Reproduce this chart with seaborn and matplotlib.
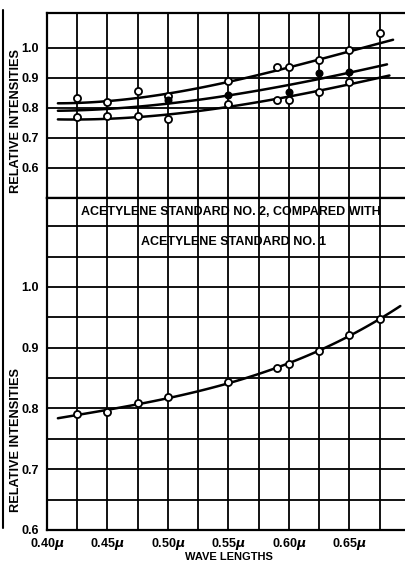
import matplotlib
matplotlib.use("Agg")
import matplotlib.pyplot as plt
import seaborn as sns
import numpy as np
import pandas as pd

# ---------------- data ----------------
# Upper panel: three series of observations and their hand-fitted curves
top_wl = [0.425, 0.45, 0.475, 0.50, 0.55, 0.59, 0.60, 0.625, 0.65, 0.675]
top_obs = [0.832, 0.820, 0.856, 0.839, 0.888, 0.937, 0.937, 0.959, 0.992, 1.048]
top_curve_wl = [0.409, 0.425, 0.45, 0.475, 0.50, 0.525, 0.55, 0.575, 0.60, 0.625, 0.65, 0.675, 0.686]
top_curve = [0.814, 0.817, 0.823, 0.834, 0.845, 0.865, 0.889, 0.909, 0.931, 0.962, 0.990, 1.015, 1.025]

mid_wl = [0.50, 0.55, 0.60, 0.625, 0.65]
mid_obs = [0.826, 0.843, 0.854, 0.917, 0.920]
mid_curve_wl = [0.409, 0.425, 0.45, 0.475, 0.50, 0.525, 0.55, 0.575, 0.60, 0.625, 0.65, 0.681]
mid_curve = [0.789, 0.793, 0.796, 0.804, 0.815, 0.827, 0.840, 0.856, 0.875, 0.898, 0.919, 0.943]

bot_wl = [0.425, 0.45, 0.475, 0.50, 0.55, 0.59, 0.60, 0.625, 0.65]
bot_obs = [0.769, 0.772, 0.772, 0.762, 0.813, 0.826, 0.826, 0.854, 0.885]
bot_curve_wl = [0.409, 0.425, 0.45, 0.475, 0.50, 0.525, 0.55, 0.575, 0.60, 0.625, 0.65, 0.683]
bot_curve = [0.759, 0.764, 0.765, 0.768, 0.776, 0.789, 0.805, 0.820, 0.835, 0.856, 0.882, 0.906]

# Lower panel: Acetylene standard No. 2 compared with No. 1
low_wl = [0.425, 0.45, 0.475, 0.50, 0.55, 0.59, 0.60, 0.625, 0.65, 0.675]
low_obs = [0.791, 0.795, 0.809, 0.819, 0.843, 0.866, 0.874, 0.894, 0.921, 0.948]
low_curve_wl = [0.409, 0.425, 0.45, 0.475, 0.50, 0.525, 0.55, 0.575, 0.60, 0.625, 0.65, 0.675, 0.692]
low_curve = [0.784, 0.790, 0.797, 0.806, 0.817, 0.830, 0.843, 0.856, 0.873, 0.895, 0.921, 0.948, 0.968]

x_ticks = [0.40, 0.45, 0.50, 0.55, 0.60, 0.65]
x_tick_labels = [r"0.40$\mu$", r"0.45$\mu$", r"0.50$\mu$", r"0.55$\mu$", r"0.60$\mu$", r"0.65$\mu$"]
y_ticks = [0.6, 0.7, 0.8, 0.9, 1.0]
y_tick_labels = ["0.6", "0.7", "0.8", "0.9", "1.0"]
title_1 = "ACETYLENE STANDARD NO. 2, COMPARED WITH"
title_2 = "ACETYLENE STANDARD NO. 1"

# ---------------- style ----------------
sns.set_theme(style="white")
plt.rcParams["font.family"] = ["Liberation Sans", "DejaVu Sans"]
plt.rcParams["font.weight"] = "bold"
plt.rcParams["mathtext.default"] = "it"

INK = "black"
LW = 1.3

fig = plt.figure(figsize=(4.06, 5.63), dpi=100)
ax_top = fig.add_axes([47 / 406, (563 - 198) / 563, 363 / 406, 185 / 563])
ax_bot = fig.add_axes([47 / 406, 33 / 563, 363 / 406, 332 / 563])


def fit_line(ax, xs, ys):
    df = pd.DataFrame({"x": xs, "y": ys})
    sns.regplot(data=df, x="x", y="y", order=3, ci=None, scatter=False,
                line_kws=dict(color=INK, lw=1.8), ax=ax)


def points(ax, xs, ys, filled=False):
    df = pd.DataFrame({"x": xs, "y": ys})
    sns.scatterplot(data=df, x="x", y="y", ax=ax, s=26 if not filled else 20,
                    marker="o", facecolor=INK if filled else "white",
                    edgecolor=INK, linewidth=1.3, zorder=5)


# upper panel
fit_line(ax_top, top_curve_wl, top_curve)
fit_line(ax_top, mid_curve_wl, mid_curve)
fit_line(ax_top, bot_curve_wl, bot_curve)
points(ax_top, top_wl, top_obs)
points(ax_top, mid_wl, mid_obs, filled=True)
points(ax_top, bot_wl, bot_obs)

# lower panel
fit_line(ax_bot, low_curve_wl, low_curve)
points(ax_bot, low_wl, low_obs)

for ax in (ax_top, ax_bot):
    ax.set_xlim(0.40, 0.70)
    ax.set_xticks(x_ticks)
    ax.set_xticks(np.arange(0.425, 0.70, 0.05), minor=True)
    ax.grid(which="both", color=INK, lw=LW)
    ax.tick_params(which="both", length=0, labelsize=9, colors=INK)
    for side in ("left", "top", "bottom"):
        ax.spines[side].set_color(INK)
        ax.spines[side].set_linewidth(1.6)
    ax.spines["right"].set_visible(False)
    ax.set_axisbelow(True)

ax_top.set_ylim(0.5, 1.1154)
ax_top.set_yticks(y_ticks)
ax_top.set_yticklabels(y_tick_labels, fontweight="bold")
ax_top.tick_params(axis="y", pad=6)
ax_top.set_xticklabels([])
ax_top.set_xlabel("")
ax_top.set_ylabel("RELATIVE INTENSITIES", fontsize=9.2, fontweight="bold", color=INK)
ax_top.yaxis.set_label_coords(-0.069, 0.416)

ax_bot.set_ylim(0.6, 1.1465)
ax_bot.set_yticks(y_ticks)
ax_bot.set_yticks(np.arange(0.65, 1.11, 0.05), minor=True)
ax_bot.set_yticklabels(y_tick_labels, fontweight="bold")
ax_bot.tick_params(axis="y", pad=6)
ax_bot.set_xticklabels(x_tick_labels, fontweight="bold", fontsize=9)
ax_bot.tick_params(axis="x", pad=4)
ax_bot.set_xlabel("WAVE LENGTHS", fontsize=8, fontweight="bold", color=INK, labelpad=0)
ax_bot.set_ylabel("RELATIVE INTENSITIES", fontsize=9.2, fontweight="bold", color=INK)
ax_bot.yaxis.set_label_coords(-0.069, 0.271)

ax_bot.text(0.552, 1.1235, title_1, ha="center", va="center", fontsize=9,
            fontweight="bold", color=INK)
ax_bot.text(0.554, 1.074, title_2, ha="center", va="center", fontsize=9,
            fontweight="bold", color=INK)

# edge of the neighbouring chart at the far left
fig.add_artist(plt.Line2D([3 / 406, 3 / 406], [1 - 10 / 563, 1 - 528 / 563],
                          color=INK, lw=1.5))

fig.savefig("out.png", dpi=100)
